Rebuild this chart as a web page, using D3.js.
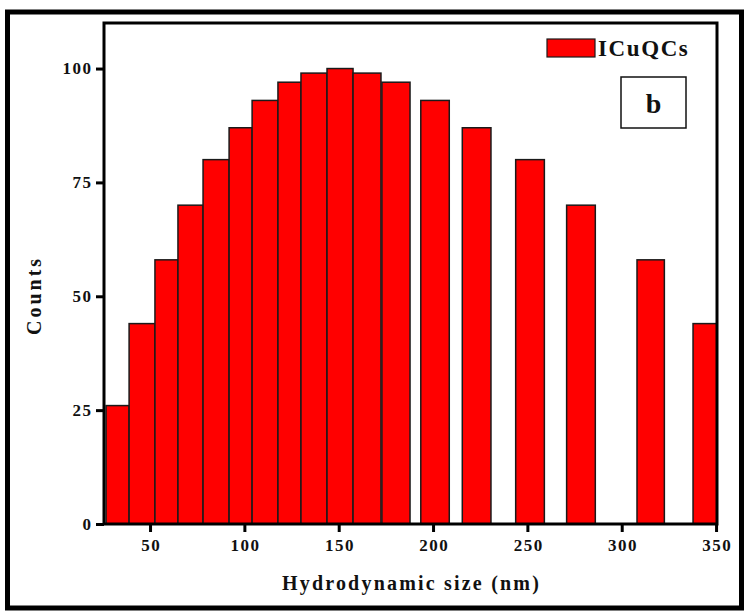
<!DOCTYPE html>
<html>
<head>
<meta charset="utf-8">
<script src="https://cdn.jsdelivr.net/npm/d3@7"></script>
<style>
  html, body { margin: 0; padding: 0; background: #fff; }
  svg { display: block; }
  text { font-family: "Liberation Serif", "Times New Roman", serif; font-weight: bold; fill: #111; }
</style>
</head>
<body>
<svg id="chart" width="745" height="613"></svg>
<script>
// ---- data ----
const binStart = [26.7, 38.9, 52.6, 64.8, 78.1, 91.9, 104.1, 117.8, 130.0, 143.8, 157.6, 172.9, 193.5, 215.5, 243.8, 270.8, 308.1, 337.8];
const binEnd   = [38.9, 52.6, 64.8, 78.1, 91.9, 104.1, 117.8, 130.0, 143.8, 157.6, 172.4, 187.8, 208.6, 230.7, 259.0, 286.0, 322.6, 352.5];
const counts   = [26, 44, 58, 70, 80, 87, 93, 97, 99, 100, 99, 97, 93, 87, 80, 70, 58, 44];
const xTicks   = [50, 100, 150, 200, 250, 300, 350];
const yTicks   = [0, 25, 50, 75, 100];
const seriesName = "ICuQCs";
const panelLabel = "b";
const xTitle = "Hydrodynamic size (nm)";
const yTitle = "Counts";

const svg = d3.select("#chart");
const plot = { left: 104, right: 717, top: 23, bottom: 524 };

const x = d3.scaleLinear().domain([25.6, 350.5]).range([plot.left, plot.right]);
const y = d3.scaleLinear().domain([0, 110]).range([plot.bottom, plot.top]);

// outer thick frame
svg.append("rect").attr("x", 7.5).attr("y", 12).attr("width", 734).attr("height", 596)
  .attr("fill", "#fff").attr("stroke", "#000").attr("stroke-width", 5);

// clip for bars
svg.append("defs").append("clipPath").attr("id", "clip")
  .append("rect").attr("x", plot.left).attr("y", plot.top)
  .attr("width", plot.right - plot.left).attr("height", plot.bottom - plot.top);

const data = counts.map((c, i) => ({ x0: binStart[i], x1: binEnd[i], c }));

svg.append("g").attr("clip-path", "url(#clip)")
  .selectAll("rect").data(data).join("rect")
  .attr("x", d => x(d.x0))
  .attr("y", d => y(d.c))
  .attr("width", d => x(d.x1) - x(d.x0))
  .attr("height", d => y(0) - y(d.c))
  .attr("fill", "#ff0000")
  .attr("stroke", "#1a1a1a")
  .attr("stroke-width", 1.5);

// plot frame
svg.append("rect").attr("x", plot.left).attr("y", plot.top)
  .attr("width", plot.right - plot.left).attr("height", plot.bottom - plot.top)
  .attr("fill", "none").attr("stroke", "#000").attr("stroke-width", 3);

// axes
const xAxis = d3.axisBottom(x).tickValues(xTicks).tickSize(8).tickPadding(7).tickSizeOuter(0);
const gx = svg.append("g").attr("transform", `translate(0,${plot.bottom})`).call(xAxis);
gx.select(".domain").remove();
gx.selectAll(".tick line").attr("stroke", "#000").attr("stroke-width", 3);
gx.selectAll(".tick text").attr("font-size", 17).attr("font-family", "Liberation Serif")
  .attr("font-weight", "bold").attr("fill", "#111")
  .style("letter-spacing", "1.5px").attr("dx", 0.75);

const yAxis = d3.axisLeft(y).tickValues(yTicks).tickSize(8).tickPadding(5).tickSizeOuter(0);
const gy = svg.append("g").attr("transform", `translate(${plot.left},0)`).call(yAxis);
gy.select(".domain").remove();
gy.selectAll(".tick line").attr("stroke", "#000").attr("stroke-width", 3);
gy.selectAll(".tick text").attr("font-size", 17).attr("font-family", "Liberation Serif")
  .attr("font-weight", "bold").attr("fill", "#111")
  .style("letter-spacing", "1.5px").attr("dx", 1.5);

// axis titles
svg.append("text").attr("x", (plot.left + plot.right) / 2 + 1).attr("y", 590)
  .attr("text-anchor", "middle").attr("font-size", 20).style("letter-spacing", "2.2px").text(xTitle);
svg.append("text").attr("transform", `translate(41,${(plot.top + plot.bottom) / 2 + 22}) rotate(-90)`)
  .attr("text-anchor", "middle").attr("font-size", 20).style("letter-spacing", "3px").text(yTitle);

// legend
svg.append("rect").attr("x", 547).attr("y", 39).attr("width", 48).attr("height", 18)
  .attr("fill", "#ff0000").attr("stroke", "#1a1a1a").attr("stroke-width", 1.2);
svg.append("text").attr("x", 598).attr("y", 56).attr("font-size", 23)
  .style("letter-spacing", "1.6px").text(seriesName);

// panel label box
svg.append("rect").attr("x", 621).attr("y", 77).attr("width", 65).attr("height", 51)
  .attr("fill", "#fff").attr("stroke", "#111").attr("stroke-width", 1.5);
svg.append("text").attr("x", 653.5).attr("y", 113).attr("text-anchor", "middle")
  .attr("font-size", 28).text(panelLabel);
</script>
</body>
</html>
